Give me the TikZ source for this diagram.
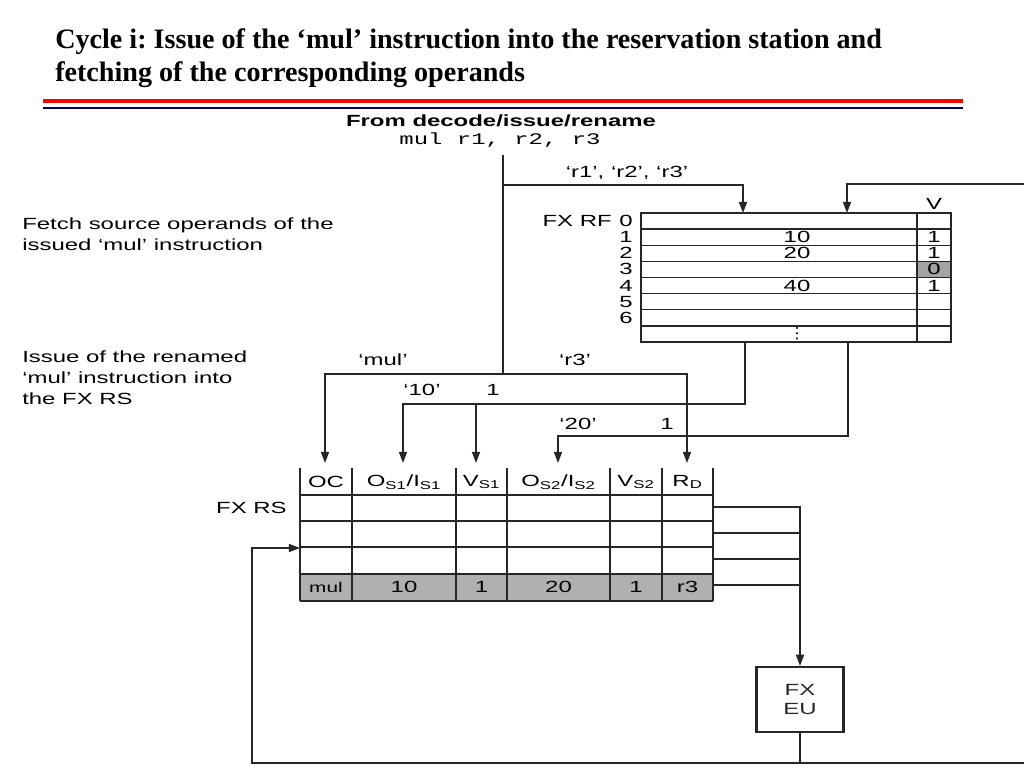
\documentclass[tikz,border=0pt]{standalone}
\usepackage{fontspec}
\usepackage{xcolor}
\usepackage{tikz}
\usetikzlibrary{arrows.meta, positioning, calc}
\newfontfamily\titlefont{Liberation Serif}
\newfontfamily\figfont[FakeStretch=1.48]{Liberation Sans}
\newfontfamily\figmono[FakeStretch=1.48]{Liberation Mono}
\newfontfamily\symfont{DejaVu Sans}
\frenchspacing

\begin{document}
\begin{tikzpicture}[x=0.025cm, y=-0.025cm,
  arrow/.style={-{Triangle[length=8pt, width=5.8pt]}, line width=1pt, black!85},
  wire/.style={line width=1pt, black!85},
  border/.style={line width=1.5pt, black!85},
  lbl/.style={font=\fontsize{11.5}{15}\selectfont\figfont, inner sep=0pt},
  note/.style={font=\fontsize{11.5}{15}\selectfont\figfont, align=left, anchor=west, inner sep=0pt},
  cell/.style={font=\fontsize{11.5}{15}\selectfont\figfont, inner sep=0pt}
]
\useasboundingbox (0,0) rectangle (1024,768);

\node[font=\fontsize{20}{23.5}\selectfont\titlefont\bfseries, align=left, anchor=north west, inner sep=0pt] (title) at (55,28) {Cycle i: Issue of the ‘mul’ instruction into the reservation station and\\fetching of the corresponding operands};
\draw[red, line width=3pt] (43,101) -- (963,101);
\draw[blue!45!black, line width=1.1pt] (43,108) -- (963,108);

\node[lbl, font=\fontsize{11.5}{15}\selectfont\figfont\bfseries] (source) at (501,121) {From decode/issue/rename};
\node[lbl, font=\fontsize{11.5}{15}\selectfont\figmono] (instr) at (500,140) {mul r1, r2, r3};

\node[note] (fetchNote) at (22,234) {Fetch source operands of the\\issued ‘mul’ instruction};
\node[note] (issueNote) at (22,378) {Issue of the renamed\\‘mul’ instruction into\\the FX RS};

% register file
\fill[gray!72] (917,261.4) rectangle (951,277.5);
\node[draw, border, minimum width=7.75cm, minimum height=3.225cm, inner sep=0pt] (regFile) at (796,277.5) {};
\foreach \i in {1,...,7}
  \draw[wire] (641,{213+16.125*\i}) -- (951,{213+16.125*\i});
\draw[wire] (917,213) -- (917,342);
\node[cell, anchor=east] (rfLabel) at (612,221) {FX RF};
\foreach \i in {0,...,6}
  \node[cell, anchor=east] (rfRow\i) at (633,{221+16.125*\i}) {\i};
\node[cell] (vLabel) at (934,204) {V};
\node[cell] (rfVal1) at (797,237.2) {10};
\node[cell] (rfVal2) at (797,253.3) {20};
\node[cell] (rfVal4) at (797,285.6) {40};
\node[cell] (rfV1) at (934,237.2) {1};
\node[cell] (rfV2) at (934,253.3) {1};
\node[cell] (rfV3) at (934,269.4) {0};
\node[cell] (rfV4) at (934,285.6) {1};
\node[inner sep=0pt, font=\fontsize{11}{11}\selectfont\symfont] (rfDots) at (797,334) {⋮};

% reservation station
\fill[gray!62] (300,574) rectangle (713,601);
\foreach \x in {352,456,507,610,662}
  \draw[wire] (\x,468) -- (\x,601);
\draw[border] (300,468) -- (300,601);
\draw[border] (713,468) -- (713,601);
\foreach \y in {495,521,547,574}
  \draw[wire] (300,\y) -- (713,\y);
\draw[border] (300,601) -- (713,601);
\node[cell, anchor=east] (rsLabel) at (287,508) {FX RS};
\node[cell] (hdrOC) at (326,482) {OC};
\node[cell] (hdrOS1) at (404,482) {O\textsubscript{S1}/I\textsubscript{S1}};
\node[cell] (hdrVS1) at (481.5,482) {V\textsubscript{S1}};
\node[cell] (hdrOS2) at (558.5,482) {O\textsubscript{S2}/I\textsubscript{S2}};
\node[cell] (hdrVS2) at (636,482) {V\textsubscript{S2}};
\node[cell] (hdrRD) at (687.5,482) {R\textsubscript{D}};
\node[cell, font=\fontsize{10}{12}\selectfont\figfont] (rsOC) at (326,587) {mul};
\node[cell] (rsOS1) at (404,587) {10};
\node[cell] (rsVS1) at (481.5,587) {1};
\node[cell] (rsOS2) at (558.5,587) {20};
\node[cell] (rsVS2) at (636,587) {1};
\node[cell] (rsRD) at (687.5,587) {r3};
\draw[wire] (713,507) -| (800,585);
\draw[wire] (713,533) -- (800,533);
\draw[wire] (713,559) -- (800,559);

\node[draw, border, cell, align=center, font=\fontsize{11.5}{14}\selectfont\figfont, minimum width=2.175cm, minimum height=1.625cm] (fxEU) at (800,699.5) {FX\\EU};

% wiring
\coordinate (trunkTop) at (503,155);
\coordinate (fetchSplit) at (503,185);
\coordinate (issueSplit) at (503,374);
\coordinate (rfIn1) at (743,213);
\coordinate (rfIn2) at (847,213);
\coordinate (wbRight) at (1024,184);
\coordinate (rfOut1) at (745,342);
\coordinate (rfOut2) at (848,342);
\coordinate (os1Tap) at (403,404);
\coordinate (vs1Tap) at (476,404);
\coordinate (os2Tap) at (558,436);
\coordinate (ocIn) at (325,463);
\coordinate (os1In) at (403,463);
\coordinate (vs1In) at (476,463);
\coordinate (os2In) at (558,463);
\coordinate (rdIn) at (687,463);
\coordinate (rsOut) at (713,585);
\coordinate (loopDown) at (800,763);
\coordinate (loopLeft) at (252,763);
\coordinate (loopRight) at (1024,763);
\coordinate (rsLoopIn) at (300,548);

\draw[wire] (trunkTop) -- (issueSplit);
\draw[arrow] (fetchSplit) -| (rfIn1);
\draw[arrow] (wbRight) -| (rfIn2);
\node[lbl] (fetchRegs) at (627,173) {‘r1’, ‘r2’, ‘r3’};

\draw[arrow] (issueSplit) -| (ocIn);
\draw[arrow] (issueSplit) -| (rdIn);
\node[lbl] (opLabel) at (383,360) {‘mul’};
\node[lbl] (rdLabel) at (575,360) {‘r3’};

\draw[arrow] (rfOut1) |- (os1Tap) -- (os1In);
\draw[arrow] (vs1Tap) -- (vs1In);
\node[lbl] (s1Label) at (422,390) {‘10’};
\node[lbl] (v1Label) at (493,390) {1};

\draw[arrow] (rfOut2) |- (os2Tap) -- (os2In);
\node[lbl] (s2Label) at (578,424) {‘20’};
\node[lbl] (v2Label) at (667,424) {1};

\draw[arrow] (rsOut) -| (fxEU.north);
\draw[wire] (fxEU.south) -- (loopDown) -- (loopRight);
\draw[arrow] (loopDown) -- (loopLeft) |- (rsLoopIn);
\end{tikzpicture}
\end{document}
